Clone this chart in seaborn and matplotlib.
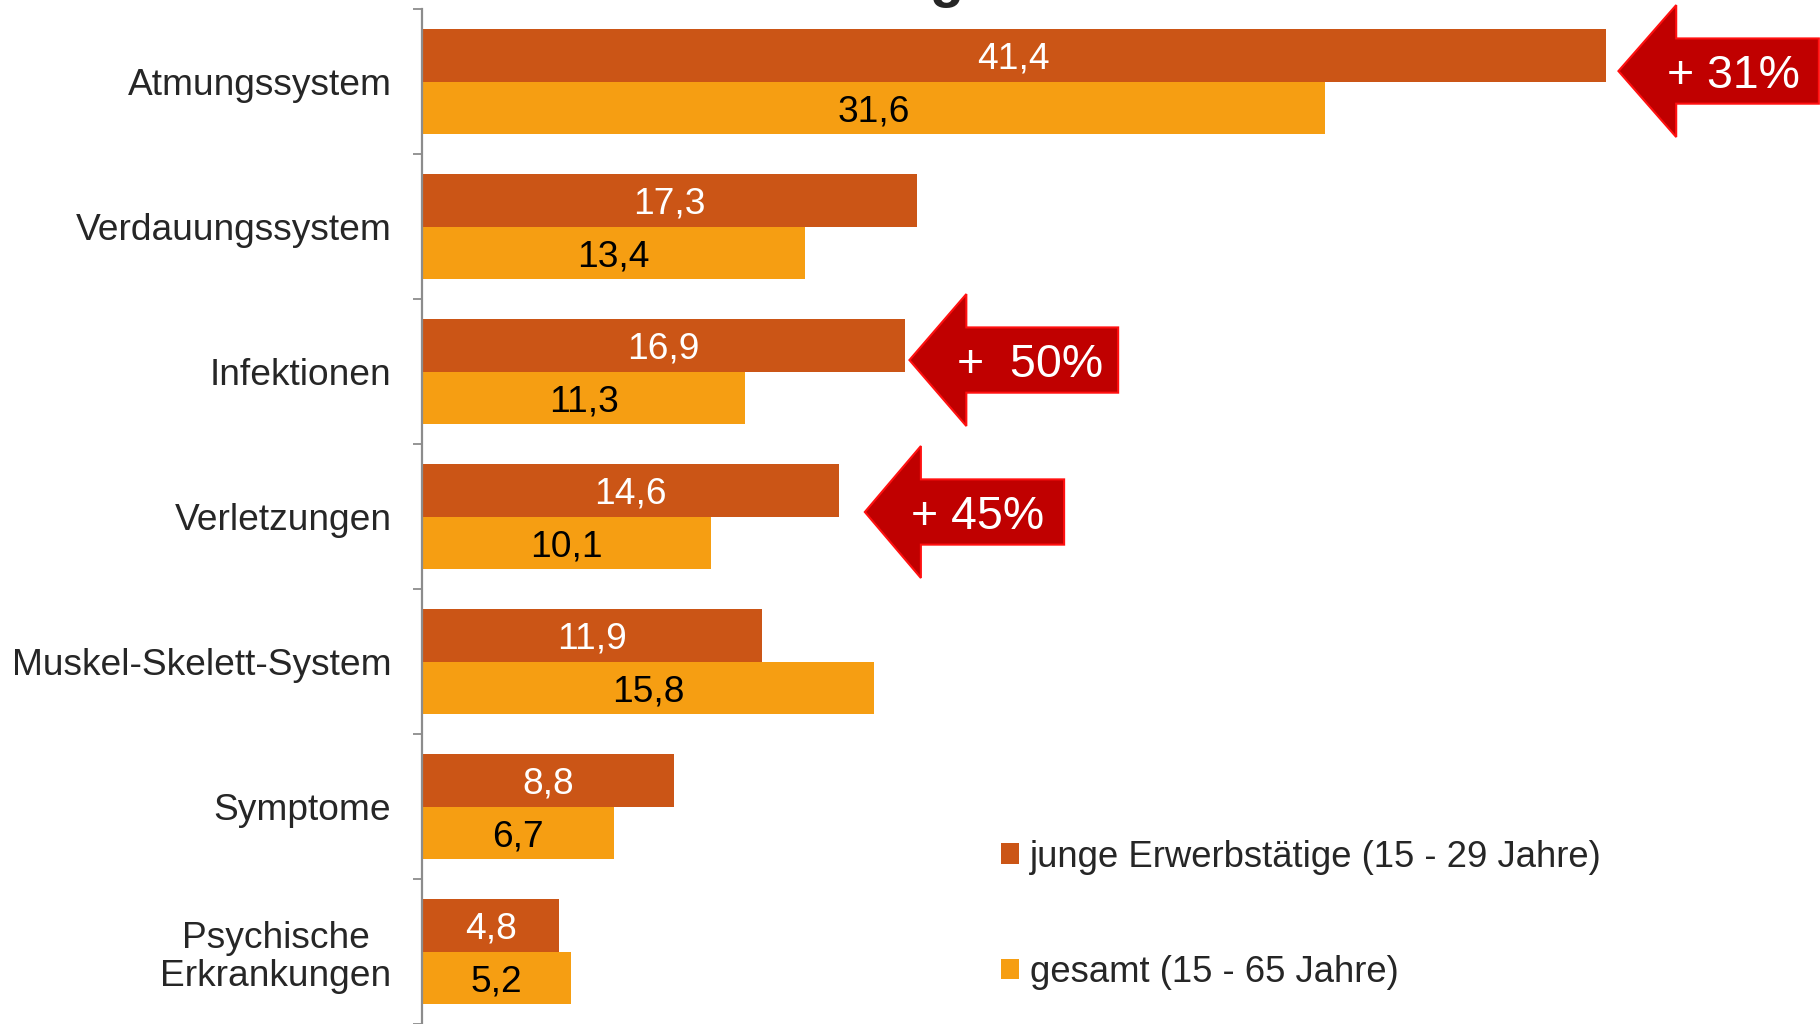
import numpy as np
import pandas as pd
import seaborn as sns
import matplotlib
matplotlib.use("Agg")
import matplotlib.pyplot as plt
from matplotlib.patches import Polygon

# ---------------- data ----------------
categories = ["Atmungssystem", "Verdauungssystem", "Infektionen", "Verletzungen",
              "Muskel-Skelett-System", "Symptome", "Psychische\nErkrankungen"]
junge = [41.4, 17.3, 16.9, 14.6, 11.9, 8.8, 4.8]
gesamt = [31.6, 13.4, 11.3, 10.1, 15.8, 6.7, 5.2]
series_names = ["junge Erwerbstätige (15 - 29 Jahre)", "gesamt (15 - 65 Jahre)"]
arrow_categories = ["Atmungssystem", "Infektionen", "Verletzungen"]
arrow_labels = ["+ 31%", "+  50%", "+ 45%"]

# ---------------- style ----------------
sns.set_theme(style="white")
plt.rcParams["font.family"] = ["Liberation Sans", "DejaVu Sans"]

dark = "#CB5516"
orange = "#F69E12"
arrow_face = "#C00000"
arrow_edge = "#FF1010"
FS = 26.7

df = pd.DataFrame({
    "Kategorie": categories * 2,
    "Wert": junge + gesamt,
    "Gruppe": [series_names[0]] * len(categories) + [series_names[1]] * len(categories),
})

fig = plt.figure(figsize=(18.2, 10.24), dpi=100)
ax = fig.add_axes([422 / 1820, 0.0, 1398 / 1820, 1015 / 1024])

sns.barplot(data=df, y="Kategorie", x="Wert", hue="Gruppe", orient="h",
            palette=[dark, orange], saturation=1, width=0.73, gap=0,
            linewidth=0, ax=ax, errorbar=None)

ax.set_xlim(0, 48.9)
ax.set_ylim(len(categories) - 0.5, -0.5)
ax.set_xlabel("")
ax.set_ylabel("")
ax.set_xticks([])

# spines
for s in ["top", "right", "bottom"]:
    ax.spines[s].set_visible(False)
ax.spines["left"].set_color("#8c8c8c")
ax.spines["left"].set_linewidth(1.6)

# ticks: labels at centres, tick marks at category boundaries
ax.set_yticks(range(len(categories)))
ax.set_yticklabels(categories, fontsize=FS, multialignment="center", linespacing=1.12)
ax.set_yticks(np.arange(-0.5, len(categories), 1.0), minor=True)
ax.tick_params(axis="y", which="major", length=0, pad=22)
ax.tick_params(axis="y", which="minor", length=6.5, width=1.3, color="#8c8c8c", left=True)

# value labels
for cont, col in zip(ax.containers, ["white", "black"]):
    labs = [f"{b.get_width():.1f}".replace(".", ",") for b in cont]
    texts = ax.bar_label(cont, labels=labs, label_type="center", color=col, fontsize=FS)
    for t in texts:
        t.set_va("center_baseline")

# arrows (annotations)
arrow_geom = {  # gap to bar, dy, head length, shaft length, text offset from tip
    "Atmungssystem": (0.45, -0.072, 2.02, 4.99, 4.02),
    "Infektionen": (0.15, -0.079, 1.99, 5.31, 4.22),
    "Verletzungen": (0.89, -0.031, 1.96, 5.01, 3.96),
}
hh, sh = 0.455, 0.225
for cat, lab in zip(arrow_categories, arrow_labels):
    i = categories.index(cat)
    gap, dy, hl, sl, tx = arrow_geom[cat]
    tip = junge[i] + gap
    base = tip + hl
    right = base + sl
    cy = i + dy
    pts = [(tip, cy), (base, cy - hh), (base, cy - sh), (right, cy - sh),
           (right, cy + sh), (base, cy + sh), (base, cy + hh)]
    ax.add_patch(Polygon(pts, closed=True, facecolor=arrow_face, edgecolor=arrow_edge,
                         linewidth=1.5, clip_on=False, zorder=5))
    ax.text(tip + tx, cy, lab, color="white", fontsize=33.5, ha="center",
            va="center_baseline", zorder=6, clip_on=False)

# legend
h, l = ax.get_legend_handles_labels()
ax.legend(h, l, loc="upper left", bbox_to_anchor=(1001 / 1820, 0.180),
          bbox_transform=fig.transFigure, frameon=False, fontsize=26.3,
          handlelength=0.5, handleheight=0.5, handletextpad=0.3,
          labelspacing=2.2, borderpad=0, borderaxespad=0)

# cropped title remnant at the very top
fig.text(0.52, 1.0036, "g", fontsize=40, fontweight="bold", ha="center", va="baseline")

fig.savefig("out.png", dpi=100)
